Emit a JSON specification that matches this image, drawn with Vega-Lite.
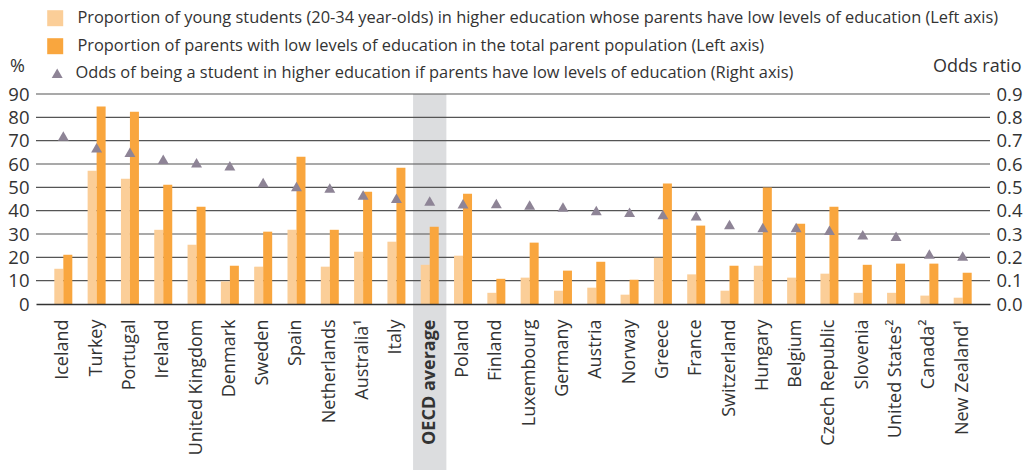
{
  "$schema": "https://vega.github.io/schema/vega-lite/v6.json",
  "width": 954,
  "height": 210,
  "autosize": {"type": "none"},
  "padding": {"left": 36, "top": 94, "right": 42, "bottom": 166},
  "background": "white",
  "config": {
    "font": "Open Sans",
    "view": {"stroke": null},
    "axis": {"labelFont": "Open Sans", "titleFont": "Open Sans"},
    "legend": {"labelFont": "Open Sans"}
  },
  "datasets": {
    "main": [
      {"country": "Iceland", "young": 15.1, "parents": 21.1, "odds": 0.72},
      {"country": "Turkey", "young": 57.1, "parents": 84.6, "odds": 0.67},
      {"country": "Portugal", "young": 53.7, "parents": 82.4, "odds": 0.65},
      {"country": "Ireland", "young": 31.8, "parents": 51.1, "odds": 0.62},
      {"country": "United Kingdom", "young": 25.4, "parents": 41.7, "odds": 0.605},
      {"country": "Denmark", "young": 9.7, "parents": 16.4, "odds": 0.593},
      {"country": "Sweden", "young": 16.0, "parents": 31.0, "odds": 0.521},
      {"country": "Spain", "young": 31.8, "parents": 63.1, "odds": 0.504},
      {"country": "Netherlands", "young": 16.0, "parents": 31.8, "odds": 0.497},
      {"country": "Australia¹", "young": 22.4, "parents": 48.1, "odds": 0.467},
      {"country": "Italy", "young": 26.7, "parents": 58.4, "odds": 0.453},
      {"country": "OECD average", "young": 16.8, "parents": 33.1, "odds": 0.441},
      {"country": "Poland", "young": 20.7, "parents": 47.3, "odds": 0.43},
      {"country": "Finland", "young": 4.8, "parents": 10.8, "odds": 0.431},
      {"country": "Luxembourg", "young": 11.3, "parents": 26.3, "odds": 0.424},
      {"country": "Germany", "young": 5.7, "parents": 14.3, "odds": 0.416},
      {"country": "Austria", "young": 7.0, "parents": 18.1, "odds": 0.401},
      {"country": "Norway", "young": 4.0, "parents": 10.4, "odds": 0.393},
      {"country": "Greece", "young": 19.8, "parents": 51.6, "odds": 0.384},
      {"country": "France", "young": 12.7, "parents": 33.6, "odds": 0.378},
      {"country": "Switzerland", "young": 5.7, "parents": 16.4, "odds": 0.341},
      {"country": "Hungary", "young": 16.4, "parents": 49.9, "odds": 0.328},
      {"country": "Belgium", "young": 11.3, "parents": 34.4, "odds": 0.328},
      {"country": "Czech Republic", "young": 13.0, "parents": 41.7, "odds": 0.316},
      {"country": "Slovenia", "young": 4.8, "parents": 16.8, "odds": 0.297},
      {"country": "United States²", "young": 4.8, "parents": 17.3, "odds": 0.29},
      {"country": "Canada²", "young": 3.6, "parents": 17.3, "odds": 0.214},
      {"country": "New Zealand¹", "young": 2.7, "parents": 13.4, "odds": 0.206}
    ],
    "grid": [{"v": 10}, {"v": 20}, {"v": 30}, {"v": 40}, {"v": 50}, {"v": 60}, {"v": 70}, {"v": 80}, {"v": 90}],
    "band": [{"country": "OECD average", "top": 90, "bottom": -75}]
  },
  "layer": [
    {
      "layer": [
        {
          "data": {"name": "band"},
          "mark": {"type": "rect", "color": "#DCDDDF", "clip": false},
          "encoding": {
            "x": {
              "field": "country", "type": "nominal",
              "scale": {"domain": ["Iceland", "Turkey", "Portugal", "Ireland", "United Kingdom", "Denmark", "Sweden", "Spain", "Netherlands", "Australia¹", "Italy", "OECD average", "Poland", "Finland", "Luxembourg", "Germany", "Austria", "Norway", "Greece", "France", "Switzerland", "Hungary", "Belgium", "Czech Republic", "Slovenia", "United States²", "Canada²", "New Zealand¹"], "paddingInner": 0, "paddingOuter": 0.32},
              "axis": {
                "title": null, "zindex": 1, "labelAngle": -90, "labelFontSize": 18, "labelColor": "#333333",
                "labelFontWeight": {"condition": {"test": "datum.value === 'OECD average'", "value": "bold"}, "value": "normal"},
                "ticks": false, "labelPadding": 15, "domainColor": "#333333", "domainWidth": 1.5, "labelLimit": 200, "labelOverlap": false
              }
            },
            "y": {
              "field": "top", "type": "quantitative",
              "scale": {"domain": [0, 90], "nice": false, "zero": false},
              "axis": {
                "title": "%", "titleAngle": 0, "titleX": -19, "titleY": -28, "titleAlign": "center", "titleBaseline": "middle",
                "titleFontSize": 18, "titleFontWeight": "normal", "titleColor": "#333333",
                "values": [0, 10, 20, 30, 40, 50, 60, 70, 80, 90], "tickCount": 10, "grid": false, "domain": false, "ticks": false,
                "labelFontSize": 18.5, "labelColor": "#333333", "labelPadding": 7, "labelOverlap": false
              }
            },
            "y2": {"field": "bottom"}
          }
        },
        {
          "data": {"name": "grid"},
          "mark": {"type": "rule", "color": "#555555", "strokeWidth": 1.1},
          "encoding": {
            "y": {
              "field": "v", "type": "quantitative",
              "axis": {
                "title": "%", "titleAngle": 0, "titleX": -19, "titleY": -28, "titleAlign": "center", "titleBaseline": "middle",
                "titleFontSize": 18, "titleFontWeight": "normal", "titleColor": "#333333",
                "values": [0, 10, 20, 30, 40, 50, 60, 70, 80, 90], "tickCount": 10, "grid": false, "domain": false, "ticks": false,
                "labelFontSize": 18.5, "labelColor": "#333333", "labelPadding": 7, "labelOverlap": false
              }
            }
          }
        },
        {
          "data": {"name": "main"},
          "transform": [{"fold": ["young", "parents"], "as": ["series", "value"]}],
          "mark": {"type": "bar"},
          "encoding": {
            "x": {"field": "country", "type": "nominal"},
            "xOffset": {"field": "series", "type": "nominal", "scale": {"domain": ["young", "parents"], "paddingInner": 0, "paddingOuter": 0.85}},
            "y": {
              "field": "value", "type": "quantitative",
              "axis": {
                "title": "%", "titleAngle": 0, "titleX": -19, "titleY": -28, "titleAlign": "center", "titleBaseline": "middle",
                "titleFontSize": 18, "titleFontWeight": "normal", "titleColor": "#333333",
                "values": [0, 10, 20, 30, 40, 50, 60, 70, 80, 90], "tickCount": 10, "grid": false, "domain": false, "ticks": false,
                "labelFontSize": 18.5, "labelColor": "#333333", "labelPadding": 7, "labelOverlap": false
              }
            },
            "color": {
              "field": "series", "type": "nominal",
              "scale": {"domain": ["young", "parents"], "range": ["#FBCE98", "#F9A63E"]},
              "legend": {
                "title": null, "orient": "none", "legendX": 11, "legendY": -84, "direction": "vertical",
                "symbolType": "square", "symbolSize": 256, "symbolStrokeWidth": 0, "labelFontSize": 16.4, "labelColor": "#333333",
                "labelOffset": 14, "rowPadding": 11, "padding": 0, "labelLimit": 1000,
                "labelExpr": "datum.value === 'young' ? 'Proportion of young students (20-34 year-olds) in higher education whose parents have low levels of education (Left axis)' : 'Proportion of parents with low levels of education in the total parent population (Left axis)'"
              }
            }
          }
        }
      ]
    },
    {
      "data": {"name": "main"},
      "mark": {"type": "point", "filled": true, "opacity": 1, "size": 120, "color": "#8E8496"},
      "encoding": {
        "x": {"field": "country", "type": "nominal"},
        "y": {
          "field": "odds", "type": "quantitative",
          "scale": {"domain": [0, 0.9], "nice": false, "zero": false},
          "axis": {
            "orient": "right", "title": "Odds ratio", "titleAngle": 0, "titleX": 31, "titleY": -28, "titleAlign": "right", "titleBaseline": "middle",
            "titleFontSize": 18, "titleFontWeight": "normal", "titleColor": "#333333",
            "values": [0, 0.1, 0.2, 0.3, 0.4, 0.5, 0.6, 0.7, 0.8, 0.9], "format": ".1f", "grid": false, "domain": false, "ticks": false,
            "labelFontSize": 18.5, "labelColor": "#333333", "labelPadding": 6, "labelOverlap": false
          }
        },
        "shape": {
          "datum": "odds",
          "scale": {"domain": ["odds"], "range": ["triangle-up"]},
          "legend": {
            "title": null, "orient": "none", "legendX": 13, "legendY": -29, "symbolSize": 120, "labelFontSize": 16.4, "labelColor": "#333333",
            "labelOffset": 10, "padding": 0, "labelLimit": 1000,
            "labelExpr": "'Odds of being a student in higher education if parents have low levels of education (Right axis)'"
          }
        }
      }
    }
  ],
  "resolve": {"scale": {"y": "independent"}}
}
